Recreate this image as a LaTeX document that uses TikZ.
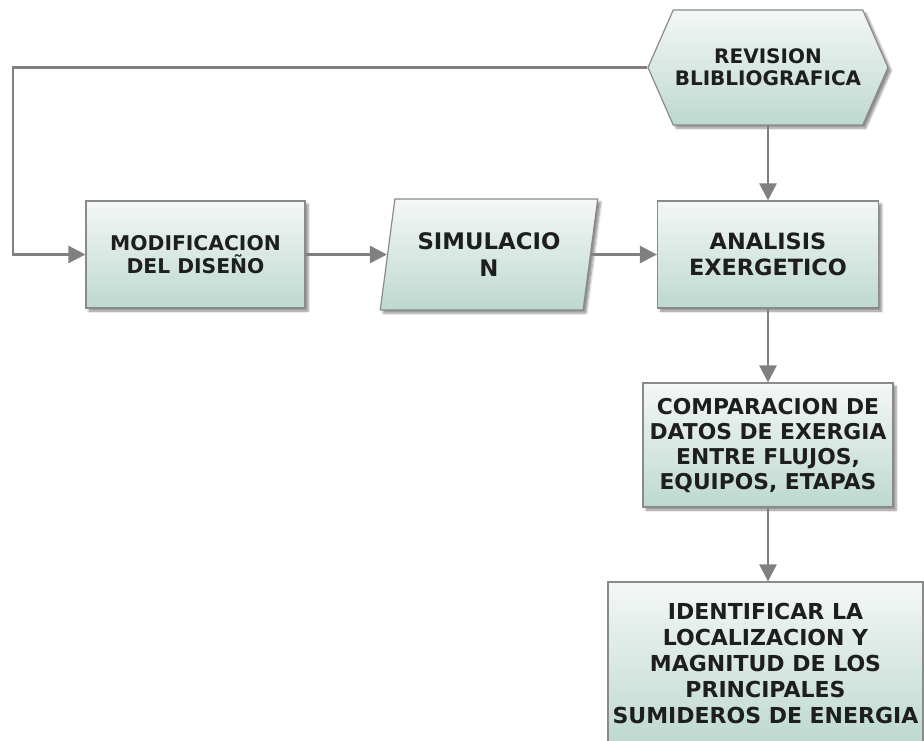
\documentclass[tikz,border=0pt]{standalone}
\usepackage{fontspec}
\setmainfont{DejaVu Sans}
\usetikzlibrary{arrows.meta,shapes.geometric,shapes.symbols,shadows.blur}
\definecolor{edgegray}{HTML}{8A8A8A}
\definecolor{conngray}{HTML}{808080}
\definecolor{topfill}{HTML}{F4F7F6}
\definecolor{botfill}{HTML}{BDD9CF}
\definecolor{txt}{HTML}{1E1E1E}
\tikzset{
  box/.style={draw=edgegray, line width=1.2pt, shading=axis, top color=topfill, bottom color=botfill,
    blur shadow={shadow xshift=3pt, shadow yshift=-3pt, shadow blur steps=6, shadow opacity=45},
    inner sep=0pt, align=center, text=txt},
  conn/.style={draw=conngray, line width=2.6pt, -{Triangle[length=17pt,width=17pt]}},
}
\begin{document}
\begin{tikzpicture}[x=1pt,y=-1pt]
\clip (0,0) rectangle (924,740);
\useasboundingbox (0,0) rectangle (924,740);
\node[box, signal, signal to=west and east, signal pointer angle=132.6,
  minimum width=240pt, minimum height=115pt,
  font=\bfseries\fontsize{20}{22}\selectfont] (rev) at (768,67.5) {REVISION\\BLIBLIOGRAFICA};
\node[box, rectangle, minimum width=219pt, minimum height=107pt,
  font=\bfseries\fontsize{20.3}{23}\selectfont] (mod) at (195.5,254.5) {MODIFICACION\\DEL DISEÑO};
\node[box, trapezium, trapezium left angle=75.8, trapezium right angle=104.2, trapezium stretches=true,
  minimum width=218pt, minimum height=111pt,
  font=\bfseries\fontsize{22.8}{27}\selectfont] (sim) at (489,254.5) {SIMULACIO\\N};
\node[box, rectangle, minimum width=221pt, minimum height=107pt,
  font=\bfseries\fontsize{22.4}{26}\selectfont] (ana) at (768,254.5) {ANALISIS\\EXERGETICO};
\node[box, rectangle, minimum width=250pt, minimum height=124pt,
  font=\bfseries\fontsize{21.8}{25}\selectfont] (comp) at (768,445) {COMPARACION DE\\DATOS DE EXERGIA\\ENTRE FLUJOS,\\EQUIPOS, ETAPAS};
\node[box, rectangle, minimum width=315pt, minimum height=163pt,
  font=\bfseries\fontsize{22}{26}\selectfont] (ident) at (765.5,663.5) {IDENTIFICAR LA\\LOCALIZACION Y\\MAGNITUD DE LOS\\PRINCIPALES\\SUMIDEROS DE ENERGIA};
\coordinate (loopc) at (13,160);
\draw[conn] (rev.west) -| (loopc) |- (mod.west);
\draw[conn] (mod.east) -- (sim.west);
\draw[conn] (sim.east) -- (ana.west);
\draw[conn] (rev.south) -- (ana.north);
\draw[conn] (ana.south) -- (comp.north);
\draw[conn] (comp.south) -- (comp.south |- ident.north);
\end{tikzpicture}
\end{document}
